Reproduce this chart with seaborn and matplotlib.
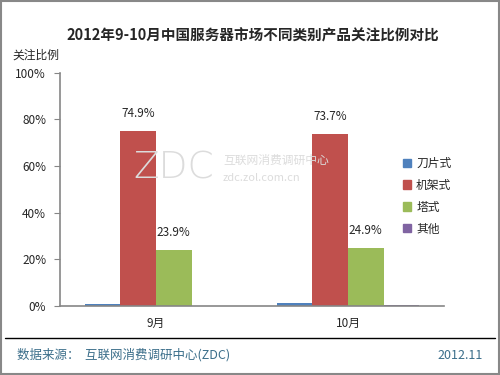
import matplotlib
matplotlib.use("Agg")
import matplotlib.pyplot as plt
import seaborn as sns
import pandas as pd
from matplotlib.ticker import FixedLocator
from matplotlib.lines import Line2D

months = ["9月", "10月"]
types = ["刀片式", "机架式", "塔式", "其他"]
share_sep = [1.0, 74.9, 23.9, 0.2]
share_oct = [1.1, 73.7, 24.9, 0.3]
colors = ["#4F81BD", "#C0504D", "#9BBB59", "#8064A2"]
y_ticks = [0, 20, 40, 60, 80, 100]
y_labels = ["0%", "20%", "40%", "60%", "80%", "100%"]

sns.set_style("white")
plt.rcParams['font.family'] = ['Noto Sans CJK SC', 'DejaVu Sans']

rows = []
for m, vals in zip(months, [share_sep, share_oct]):
    for t, v in zip(types, vals):
        rows.append({"month": m, "type": t, "share": v})
df = pd.DataFrame(rows)

fig = plt.figure(figsize=(5, 3.75), dpi=100)
ax = fig.add_axes([0.12, 0.184, 0.768, 0.622])

sns.barplot(data=df, x="month", y="share", hue="type", hue_order=types,
            palette=colors, width=0.74, saturation=1, linewidth=0,
            ax=ax, legend=False)

ax.set_ylim(0, 100)
ax.set_xlim(-0.5, 1.5)
ax.set_yticks(y_ticks)
ax.set_yticklabels(y_labels, fontsize=8.5)
ax.xaxis.set_minor_locator(FixedLocator([0.5, 1.5]))
ax.tick_params(axis="x", which="major", length=0, labelsize=8.5, pad=8)
ax.tick_params(axis="x", which="minor", length=4, color="#868686")
ax.tick_params(axis="y", length=4, color="#868686", left=True, pad=6)
ax.set_xlabel("")
ax.set_ylabel("")
for s in ["top", "right"]:
    ax.spines[s].set_visible(False)
for s in ["left", "bottom"]:
    ax.spines[s].set_color("#868686")
    ax.spines[s].set_linewidth(1.2)

# value labels only on the two big series
for i in [1, 2]:
    ax.bar_label(ax.containers[i], fmt="%.1f%%", padding=8, fontsize=8.5)

# watermark
fig.text(0.266, 0.553, "ZDC", fontsize=27, color="#dcdcdc",
         ha="left", va="center", family="DejaVu Sans", fontweight="light")
fig.text(0.446, 0.573, "互联网消费调研中心", fontsize=8.5, color="#dcdcdc",
         ha="left", va="center")
fig.text(0.446, 0.526, "zdc.zol.com.cn", fontsize=8, color="#dcdcdc",
         ha="left", va="center")

# legend
handles = [plt.Rectangle((0, 0), 1, 1, color=c) for c in colors]
fig.legend(handles, types, loc="upper left", bbox_to_anchor=(0.785, 0.61),
           frameon=False, fontsize=8.5, handlelength=0.7, handleheight=0.7,
           handletextpad=0.4, labelspacing=0.75)

fig.text(0.506, 0.905, "2012年9-10月中国服务器市场不同类别产品关注比例对比",
         ha="center", va="center", fontsize=10.5, fontweight="bold")
fig.text(0.072, 0.853, "关注比例", ha="center", va="center", fontsize=8.5)

# footer
fig.add_artist(Line2D([0.01, 0.99], [0.098, 0.098], color="black", lw=1))
fig.text(0.034, 0.053, "数据来源：  互联网消费调研中心(ZDC)", ha="left", va="center",
         fontsize=9, color="#3b6e8a")
fig.text(0.966, 0.053, "2012.11", ha="right", va="center", fontsize=9, color="#3b6e8a")

# outer border
fig.add_artist(plt.Rectangle((0.002, 0.003), 0.996, 0.994, fill=False,
                             edgecolor="#888888", lw=1.5, transform=fig.transFigure))

fig.savefig("out.png", dpi=100)
